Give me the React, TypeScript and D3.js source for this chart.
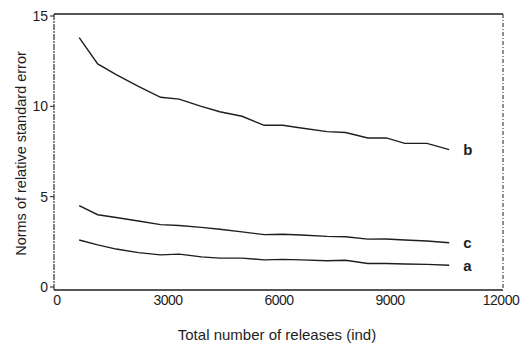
import React from 'react';
import { scaleLinear, line } from 'd3';

// sample positions (total number of releases)
const releases = [600, 1100, 1600, 2200, 2800, 3300, 3900, 4400, 5000, 5600, 6100, 6600, 7300, 7800, 8400, 8900, 9400, 10000, 10600];

const seriesB = [13.8, 12.35, 11.75, 11.1, 10.5, 10.4, 10.0, 9.7, 9.45, 8.95, 8.95, 8.8, 8.6, 8.55, 8.25, 8.25, 7.95, 7.95, 7.6];
const seriesC = [4.5, 4.0, 3.85, 3.65, 3.45, 3.4, 3.3, 3.2, 3.05, 2.9, 2.92, 2.88, 2.8, 2.78, 2.65, 2.66, 2.6, 2.55, 2.45];
const seriesA = [2.6, 2.33, 2.1, 1.9, 1.78, 1.82, 1.67, 1.6, 1.6, 1.5, 1.53, 1.5, 1.45, 1.48, 1.3, 1.3, 1.27, 1.25, 1.2];

const seriesNames = ['b', 'c', 'a'];
const xTicks = [0, 3000, 6000, 9000, 12000];
const yTicks = [0, 5, 10, 15];

const W = 530;
const H = 344;

export default function App() {
  const x = scaleLinear().domain([0, 12000]).range([57, 501]);
  const y = scaleLinear().domain([0, 15]).range([287, 16]);

  const path = line<number>()
    .x((_, i) => x(releases[i]))
    .y(d => y(d));

  const all = [seriesB, seriesC, seriesA];
  const ink = '#1e1e1e';
  const font = 'Liberation Sans, Arial, sans-serif';

  return (
    <svg width={W} height={H} style={{ position: 'absolute', left: 0, top: 0, background: '#fff' }}>
      {/* frame */}
      <line x1={54} x2={503} y1={14} y2={14} stroke={ink} strokeWidth={1.3} />
      <line x1={54} x2={54} y1={14} y2={290} stroke={ink} strokeWidth={1.1} strokeDasharray="6 1 2 1" />
      <line x1={54} x2={503} y1={290} y2={290} stroke={ink} strokeWidth={1.3} />
      <line x1={503} x2={503} y1={14} y2={290} stroke={ink} strokeWidth={1} strokeDasharray="4 2 1 2" />

      {/* y axis */}
      {yTicks.map(t => (
        <g key={t}>
          <line x1={50} x2={54} y1={y(t)} y2={y(t)} stroke={ink} strokeWidth={1} />
          <text x={48} y={y(t)} dy="0.35em" textAnchor="end" fontSize={14} fontFamily={font} fill={ink}>{t}</text>
        </g>
      ))}
      {/* x axis */}
      {xTicks.map(t => (
        <text key={t} x={x(t)} y={305} textAnchor="middle" fontSize={14} fontFamily={font} fill={ink} letterSpacing={-0.5}>{t}</text>
      ))}

      {/* curves */}
      {all.map((s, k) => (
        <g key={seriesNames[k]}>
          <path d={path(s) || ''} fill="none" stroke={ink} strokeWidth={1.4} />
          <text x={x(releases[releases.length - 1]) + 14} y={y(s[s.length - 1])} dy="0.35em" fontSize={15} fontFamily={font} fontWeight="bold" fill={ink}>{seriesNames[k]}</text>
        </g>
      ))}

      {/* titles */}
      <text x={277} y={340} textAnchor="middle" fontSize={15} fontFamily={font} fill={ink}>Total number of releases (ind)</text>
      <text transform={`translate(26,${y(7.5) + 2}) rotate(-90)`} textAnchor="middle" fontSize={14.5} fontFamily={font} fill={ink}>Norms of relative standard error</text>
    </svg>
  );
}
